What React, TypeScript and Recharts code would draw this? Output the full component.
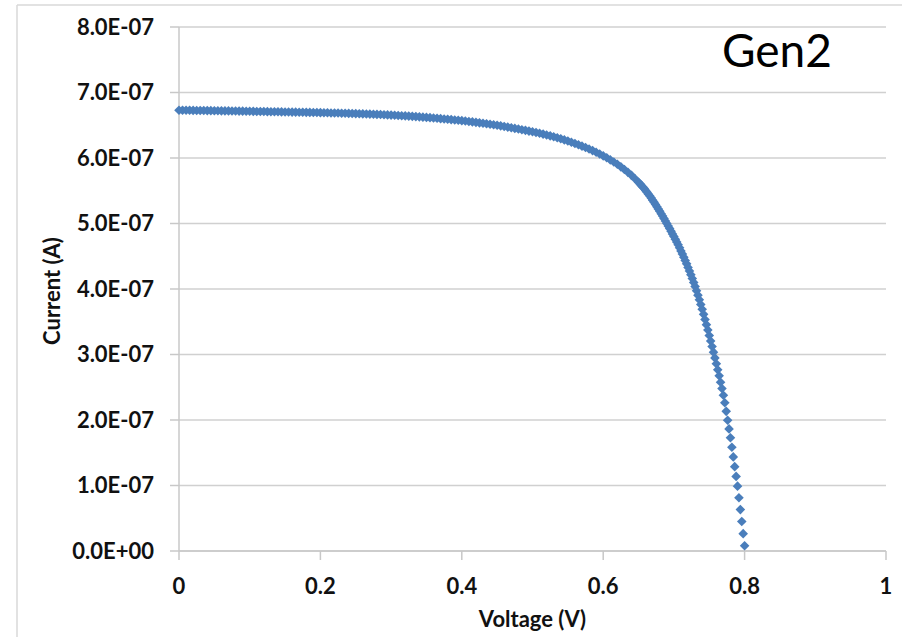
import React from 'react';
import { ScatterChart, Scatter, XAxis, YAxis, CartesianGrid } from 'recharts';

// Voltage sweep in millivolts
const voltageMv = [
  0, 5, 10, 15, 20, 25, 30, 35, 40, 45, 50,
  55, 60, 65, 70, 75, 80, 85, 90, 95, 100,
  105, 110, 115, 120, 125, 130, 135, 140, 145, 150,
  155, 160, 165, 170, 175, 180, 185, 190, 195, 200,
  205, 210, 215, 220, 225, 230, 235, 240, 245, 250,
  255, 260, 265, 270, 275, 280, 285, 290, 295, 300,
  305, 310, 315, 320, 325, 330, 335, 340, 345, 350,
  355, 360, 365, 370, 375, 380, 385, 390, 395, 400,
  405, 410, 415, 420, 425, 430, 435, 440, 445, 450,
  455, 460, 465, 470, 475, 480, 485, 490, 495, 500,
  505, 510, 515, 520, 525, 530, 535, 540, 545, 550,
  555, 560, 565, 570, 575, 580, 585, 590, 595, 600,
  605, 610, 615, 620, 625, 630, 635, 640, 645, 650,
  652, 654, 656, 658, 660, 662, 664, 666, 668, 670, 672, 674, 676, 678, 680,
  682, 684, 686, 688, 690, 692, 694, 696, 698, 700,
  702, 704, 706, 708, 710, 712, 714, 716, 718, 720, 722, 724, 726, 728, 730,
  732, 734, 736, 738, 740, 742, 744, 746, 748, 750,
  752, 754, 756, 758, 760, 762, 764, 766, 768, 770, 772, 774, 776, 778, 780,
  782, 784, 786, 788, 790, 792, 794, 796, 798, 800,
];

// Current in units of 1e-7 A
const currentE7 = [
  6.730, 6.729, 6.728, 6.728, 6.727, 6.726, 6.725, 6.725, 6.724, 6.723, 6.722,
  6.721, 6.720, 6.719, 6.719, 6.718, 6.717, 6.716, 6.715, 6.714, 6.713,
  6.712, 6.711, 6.710, 6.709, 6.708, 6.707, 6.706, 6.705, 6.704, 6.703,
  6.702, 6.701, 6.700, 6.699, 6.698, 6.697, 6.696, 6.695, 6.694, 6.692,
  6.691, 6.690, 6.688, 6.687, 6.686, 6.684, 6.683, 6.681, 6.680, 6.678,
  6.676, 6.674, 6.672, 6.670, 6.668, 6.666, 6.664, 6.661, 6.658, 6.655,
  6.652, 6.649, 6.646, 6.643, 6.640, 6.636, 6.632, 6.628, 6.624, 6.620,
  6.616, 6.611, 6.606, 6.601, 6.596, 6.591, 6.586, 6.581, 6.576, 6.570,
  6.564, 6.558, 6.551, 6.544, 6.537, 6.530, 6.523, 6.516, 6.508, 6.500,
  6.491, 6.482, 6.472, 6.462, 6.452, 6.442, 6.432, 6.422, 6.411, 6.400,
  6.389, 6.377, 6.365, 6.352, 6.338, 6.324, 6.309, 6.293, 6.276, 6.259,
  6.241, 6.222, 6.202, 6.181, 6.160, 6.137, 6.113, 6.088, 6.061, 6.033,
  6.003, 5.972, 5.939, 5.904, 5.865, 5.825, 5.781, 5.735, 5.683, 5.628,
  5.605, 5.582, 5.558, 5.533, 5.503, 5.476, 5.448, 5.419, 5.388, 5.356, 5.323, 5.289, 5.254, 5.220, 5.186,
  5.150, 5.114, 5.077, 5.039, 5.001, 4.962, 4.922, 4.882, 4.841, 4.800,
  4.759, 4.717, 4.675, 4.629, 4.580, 4.533, 4.485, 4.435, 4.384, 4.330, 4.275, 4.219, 4.161, 4.101, 4.040,
  3.974, 3.906, 3.836, 3.764, 3.690, 3.613, 3.535, 3.456, 3.375, 3.290,
  3.207, 3.122, 3.036, 2.948, 2.858, 2.767, 2.675, 2.577, 2.480, 2.378, 2.264, 2.132, 1.997, 1.864, 1.730,
  1.585, 1.437, 1.288, 1.139, 0.990, 0.812, 0.632, 0.450, 0.265, 0.080,
];

const xTicks = [0, 0.2, 0.4, 0.6, 0.8, 1];
const yTicks = [0, 1e-7, 2e-7, 3e-7, 4e-7, 5e-7, 6e-7, 7e-7, 8e-7];
const titleText = 'Gen2';
const xTitle = 'Voltage (V)';
const yTitle = 'Current (A)';

const data = voltageMv.map((mv, k) => ({ v: mv / 1000, i: currentE7[k] * 1e-7 }));

const FONT = 'Lato, "Liberation Sans", sans-serif';
const TEXT = '#111111';
const MARK = '#4a7ebb';

const fmtSci = (val: number) => {
  const s = Number(val).toExponential(1);
  const [m, e] = s.split('e');
  const sign = e[0] === '-' ? '-' : '+';
  const digits = e.replace(/^[+-]/, '').padStart(2, '0');
  return `${m}E${sign}${digits}`;
};

const Diamond = (props: any) => {
  const { cx, cy } = props;
  if (cx == null || cy == null) return null;
  const h = 4.8;
  return (
    <polygon
      points={`${cx},${cy - h} ${cx + h},${cy} ${cx},${cy + h} ${cx - h},${cy}`}
      fill={MARK}
    />
  );
};

export default function App() {
  return (
    <div style={{ position: 'absolute', left: 0, top: 0, width: 902, height: 637, background: '#fff' }}>
      <ScatterChart
        width={902}
        height={637}
        margin={{ top: 27, right: 16, bottom: 0, left: 0 }}
      >
        <CartesianGrid horizontal vertical={false} stroke="#d0d0d0" strokeWidth={1.5} />
        <XAxis
          type="number"
          dataKey="v"
          domain={[0, 1]}
          ticks={xTicks}
          height={86}
          tickSize={9}
          tickMargin={18}
          stroke="#c8c8c8"
          strokeWidth={1.5}
          tick={{ fill: TEXT, fontSize: 22, fontWeight: 700, fontFamily: FONT }}
          label={{
            content: (p: any) => {
              const vb = p.viewBox || {};
              return (
                <text
                  x={vb.x + vb.width / 2}
                  y={vb.y + vb.height - 10}
                  textAnchor="middle"
                  fill={TEXT}
                  fontSize={22}
                  fontWeight={700}
                  fontFamily={FONT}
                >
                  {xTitle}
                </text>
              );
            },
          }}
        />
        <YAxis
          type="number"
          dataKey="i"
          domain={[0, 8e-7]}
          ticks={yTicks}
          width={179}
          tickSize={9}
          tickMargin={16}
          tickFormatter={fmtSci}
          stroke="#c8c8c8"
          strokeWidth={1.5}
          tick={{ fill: TEXT, fontSize: 22, fontWeight: 700, fontFamily: FONT }}
          label={{
            content: (p: any) => {
              const vb = p.viewBox || {};
              const x = vb.x + 51;
              const y = vb.y + vb.height / 2 + 2;
              return (
                <text
                  x={x}
                  y={y}
                  transform={`rotate(-90, ${x}, ${y})`}
                  textAnchor="middle"
                  dominantBaseline="central"
                  fill={TEXT}
                  fontSize={22}
                  fontWeight={700}
                  fontFamily={FONT}
                >
                  {yTitle}
                </text>
              );
            },
          }}
        />
        <Scatter data={data} fill={MARK} shape={Diamond} isAnimationActive={false} />
      </ScatterChart>
      <svg
        width={902}
        height={637}
        style={{ position: 'absolute', left: 0, top: 0, pointerEvents: 'none' }}
      >
        <line x1={17} y1={5} x2={902} y2={5} stroke="#d9d9d9" strokeWidth={1.5} />
        <line x1={17} y1={5} x2={17} y2={637} stroke="#d9d9d9" strokeWidth={1.5} />
        <text x={722} y={67} fill="#000" fontSize={46} fontFamily={FONT}>
          {titleText}
        </text>
      </svg>
    </div>
  );
}
